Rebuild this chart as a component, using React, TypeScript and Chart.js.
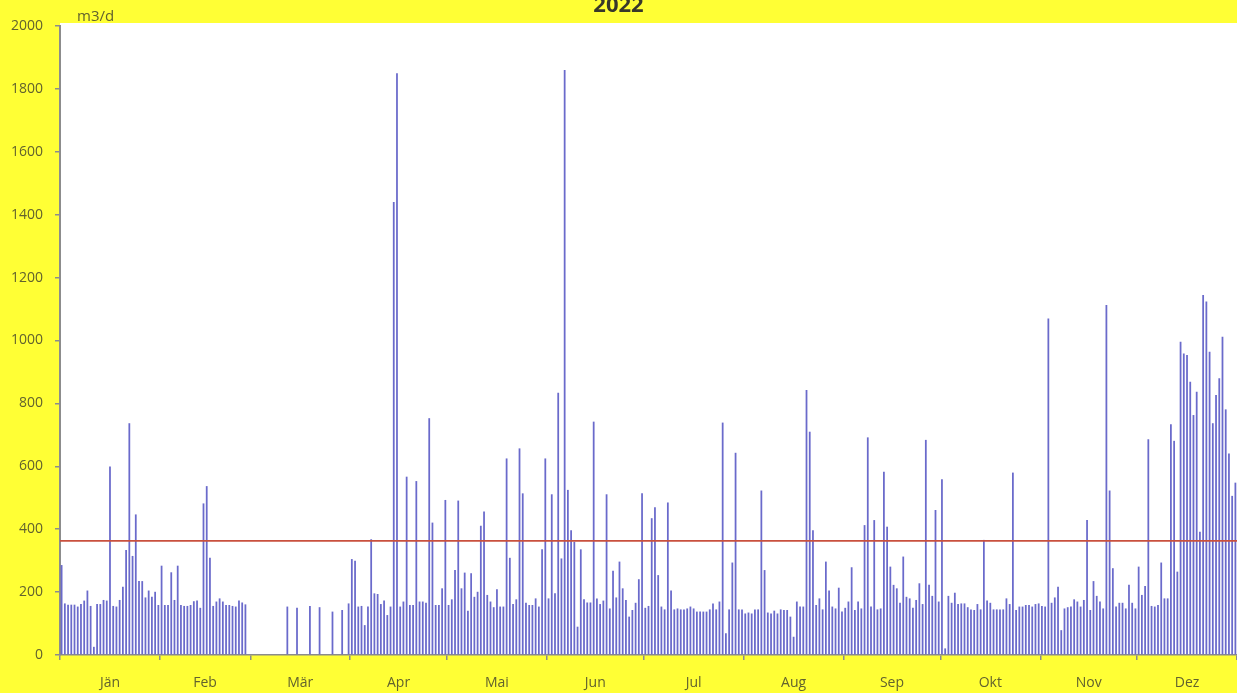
import React, { useEffect, useRef } from 'react';
import { Chart, registerables } from 'chart.js';

Chart.register(...registerables);

// ---- data (m3/d per day, 2022) ----
const jan = [286, 164, 160, 160, 160, 154, 162, 173, 205, 156, 26, 162, 162, 175, 173, 599, 156, 154, 175, 217, 334, 737, 315, 447, 235, 235, 183, 205, 185, 201, 159];
const feb = [284, 159, 159, 263, 175, 284, 159, 156, 156, 159, 171, 173, 150, 482, 537, 309, 156, 170, 180, 170, 159, 159, 156, 154, 173, 167, 161, 0];
const mar = [0, 0, 0, 0, 0, 0, 0, 0, 0, 0, 0, 154, 0, 0, 150, 0, 0, 0, 156, 0, 0, 152, 0, 0, 0, 138, 0, 0, 143, 0, 164];
const apr = [305, 300, 154, 156, 95, 154, 368, 196, 194, 162, 173, 127, 154, 1440, 1850, 154, 170, 567, 159, 159, 553, 170, 170, 166, 753, 421, 159, 159, 212, 493];
const mai = [159, 177, 270, 491, 212, 262, 141, 260, 185, 201, 411, 456, 191, 170, 152, 209, 154, 154, 625, 309, 162, 177, 657, 514, 166, 159, 159, 180, 154, 336, 625];
const jun = [180, 511, 196, 834, 307, 1860, 525, 397, 360, 90, 336, 177, 167, 167, 742, 180, 162, 173, 511, 148, 268, 183, 297, 212, 175, 122, 143, 166, 241, 514];
const jul = [150, 156, 435, 470, 254, 154, 145, 485, 205, 145, 148, 145, 145, 148, 154, 148, 138, 138, 138, 138, 145, 164, 145, 170, 739, 69, 145, 294, 643, 145, 145];
const aug = [132, 135, 132, 145, 145, 523, 270, 135, 132, 141, 132, 145, 143, 143, 122, 58, 170, 154, 154, 843, 710, 397, 159, 180, 145, 297, 205, 154, 148, 214, 138];
const sep = [150, 170, 279, 143, 170, 148, 413, 692, 154, 429, 145, 148, 583, 408, 281, 223, 212, 166, 313, 185, 180, 150, 175, 228, 162, 684, 223, 188, 461, 170];
const okt = [559, 21, 188, 166, 198, 162, 164, 164, 152, 145, 143, 162, 145, 366, 173, 166, 145, 145, 145, 145, 180, 162, 580, 143, 154, 154, 159, 159, 154, 162, 164];
const nov = [156, 154, 1070, 166, 183, 217, 79, 148, 152, 154, 177, 170, 154, 175, 429, 143, 235, 188, 170, 148, 1113, 523, 276, 154, 166, 166, 148, 223, 166, 148];
const dez = [281, 191, 219, 686, 156, 154, 159, 294, 180, 180, 734, 681, 265, 996, 959, 954, 869, 763, 837, 392, 1145, 1124, 964, 737, 827, 880, 1012, 781, 641, 506, 548];

const monthLabels = ['Jän', 'Feb', 'Mär', 'Apr', 'Mai', 'Jun', 'Jul', 'Aug', 'Sep', 'Okt', 'Nov', 'Dez'];
const averageValue = [363];
const yTickRange = [0, 2000, 200];
const titleText = '2022';
const unitLabel = 'm3/d';

const months = [jan, feb, mar, apr, mai, jun, jul, aug, sep, okt, nov, dez];
const daily = months.flat();

const boundaries: number[] = [];
{
  let acc = 0;
  months.forEach((m) => {
    boundaries.push(acc + 0.5);
    acc += m.length;
  });
  boundaries.push(acc + 0.5);
}
const mids = months.map((m, i) => boundaries[i] + m.length / 2);

const FONT = '"Open Sans", "Liberation Sans", sans-serif';
const TEXT_COLOR = '#62622e';
const AXIS_COLOR = '#8c8c8c';

const decorPlugin = {
  id: 'decor',
  beforeDraw(chart: any) {
    const { ctx, chartArea: a, width, height } = chart;
    ctx.save();
    ctx.fillStyle = '#ffff35';
    ctx.fillRect(0, 0, width, height);
    ctx.fillStyle = '#ffffff';
    ctx.fillRect(a.left, a.top - 3, width - a.left, a.bottom - a.top + 3);
    ctx.restore();
  },
  afterDraw(chart: any) {
    const { ctx, chartArea: a, width } = chart;
    ctx.save();
    ctx.font = 'bold 22px ' + FONT;
    ctx.fillStyle = '#38382a';
    ctx.textAlign = 'center';
    ctx.textBaseline = 'alphabetic';
    ctx.fillText(titleText, width / 2, 12);
    ctx.font = '15px ' + FONT;
    ctx.fillStyle = TEXT_COLOR;
    ctx.textAlign = 'left';
    ctx.textBaseline = 'middle';
    ctx.fillText(unitLabel, a.left + 17, a.top - 9);
    ctx.restore();
  },
};

export default function App() {
  const ref = useRef<HTMLCanvasElement>(null);
  useEffect(() => {
    if (!ref.current) return;
    const chart = new Chart(ref.current, {
      type: 'bar',
      data: {
        datasets: [
          {
            type: 'line' as const,
            data: [
              { x: boundaries[0], y: averageValue[0] },
              { x: boundaries[boundaries.length - 1], y: averageValue[0] },
            ],
            borderColor: '#c9503e',
            borderWidth: 1.6,
            pointRadius: 0,
            order: 0,
          },
          {
            type: 'bar' as const,
            data: daily.map((v, i) => ({ x: i + 1, y: v })),
            backgroundColor: '#6a6acb',
            borderWidth: 0,
            categoryPercentage: 1,
            barPercentage: 0.55,
            order: 1,
          },
        ] as any,
      },
      options: {
        responsive: false,
        animation: false,
        layout: { padding: { top: 26, left: 0, right: 0, bottom: 0 } },
        plugins: {
          legend: { display: false },
          tooltip: { enabled: false },
          title: { display: false },
        },
        scales: {
          x: {
            type: 'linear',
            offset: false,
            min: boundaries[0],
            max: boundaries[boundaries.length - 1],
            afterBuildTicks: (scale: any) => {
              const vals = [...boundaries, ...mids].sort((p, q) => p - q);
              scale.ticks = vals.map((v) => ({ value: v }));
            },
            afterFit: (scale: any) => {
              scale.height = 38;
              scale.paddingRight = 0;
              scale.paddingLeft = 0;
            },
            ticks: {
              autoSkip: false,
              maxRotation: 0,
              padding: 15,
              color: TEXT_COLOR,
              font: { family: FONT, size: 14 },
              callback: (value: any) => {
                const i = mids.indexOf(Number(value));
                return i >= 0 ? monthLabels[i] : '';
              },
            },
            grid: {
              offset: false,
              drawOnChartArea: false,
              tickLength: 5,
              lineWidth: 1.5,
              color: (c: any) => (c.tick && boundaries.includes(c.tick.value) ? AXIS_COLOR : 'rgba(0,0,0,0)'),
              tickColor: (c: any) => (c.tick && boundaries.includes(c.tick.value) ? AXIS_COLOR : 'rgba(0,0,0,0)'),
            },
            border: { display: true, color: AXIS_COLOR, width: 1.5 },
          },
          y: {
            min: yTickRange[0],
            max: yTickRange[1],
            afterFit: (scale: any) => {
              scale.width = 60;
            },
            ticks: {
              stepSize: yTickRange[2],
              padding: 12,
              color: TEXT_COLOR,
              font: { family: FONT, size: 14 },
              callback: (value: any) => String(value),
            },
            grid: {
              drawOnChartArea: false,
              tickLength: 5,
              color: AXIS_COLOR,
              tickColor: AXIS_COLOR,
              lineWidth: 1.5,
            },
            border: { display: true, color: AXIS_COLOR, width: 2 },
          },
        },
      },
      plugins: [decorPlugin],
    } as any);
    return () => chart.destroy();
  }, []);
  return (
    <div style={{ position: 'fixed', left: 0, top: 0, width: 1237, height: 693, background: '#ffff35' }}>
      <canvas ref={ref} width={1237} height={693} />
    </div>
  );
}
